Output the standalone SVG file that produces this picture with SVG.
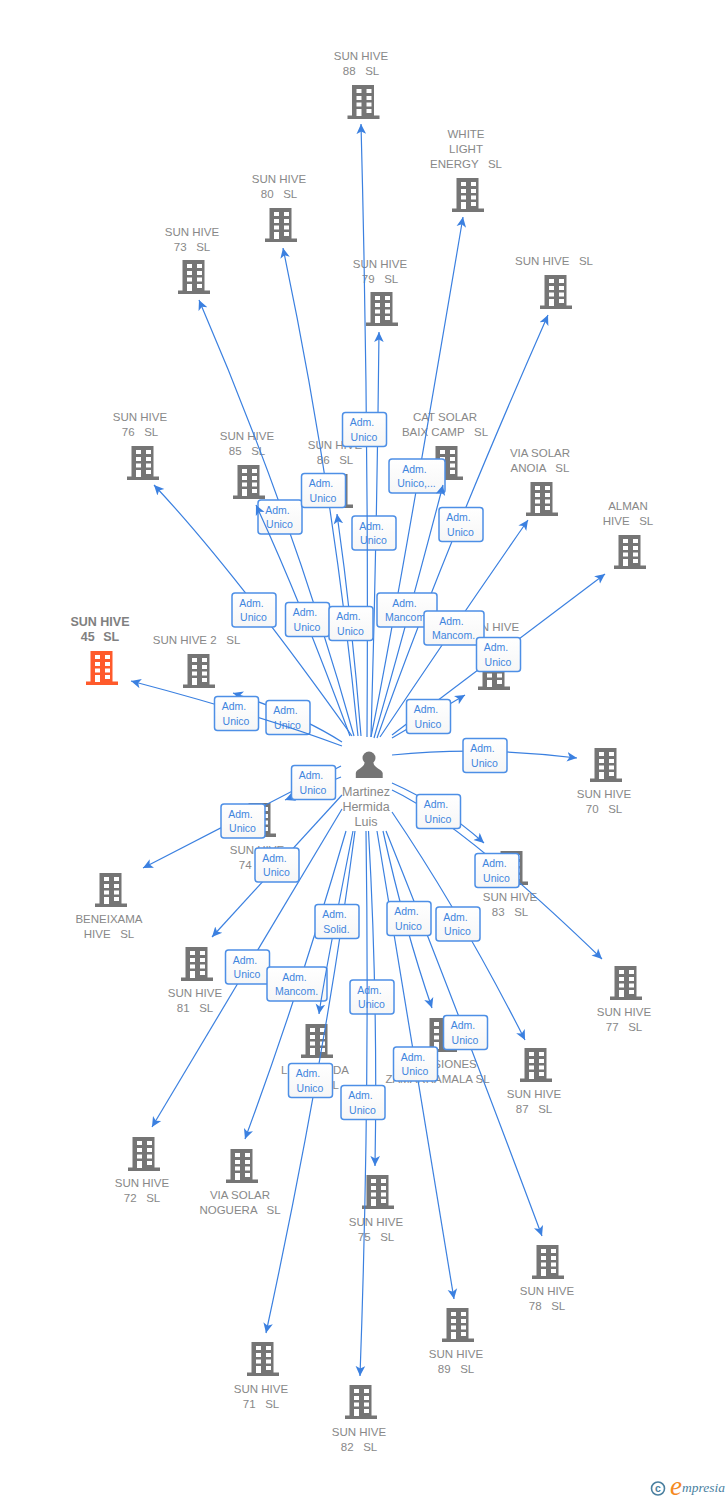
<svg xmlns="http://www.w3.org/2000/svg" width="728" height="1500" viewBox="0 0 728 1500">
<style>
text{font-family:"Liberation Sans",Arial,sans-serif;white-space:pre}
.n{font-size:11.5px;fill:#888;text-anchor:middle}
.h{font-size:12.5px;font-weight:bold;fill:#808080;text-anchor:middle}
.p{font-size:12.5px;fill:#888;text-anchor:middle}
.b{fill:url(#g);stroke:#4d8fe6;stroke-width:1.5}
.t{font-size:10.5px;fill:#3f85de;text-anchor:middle;transform:translateY(-0.8px)}
.c{fill:none;stroke:#3b80e0;stroke-width:1.2;marker-end:url(#a)}
.i{fill:#757575}
.o{fill:#ff5a2b}
</style>
<defs>
<linearGradient id="g" x1="0" y1="0" x2="0" y2="1"><stop offset="0" stop-color="#fff"/><stop offset="1" stop-color="#f6f6f6"/></linearGradient>
<marker id="a" markerUnits="userSpaceOnUse" markerWidth="11" markerHeight="11" viewBox="0 -5.5 11 11" refX="10" refY="0" orient="auto"><path d="M10,0L0,-4.8L2.6,0L0,4.8Z" fill="#3b80e0"/></marker>
<path id="k" fill-rule="evenodd" d="M4.5,0H26.5V30.5H32V34H0V30.5H4.5ZM9,4V8H14V4ZM19,4V8H24V4ZM9,11V15H14V11ZM19,11V15H24V11ZM9,17.5V21.5H14V17.5ZM19,17.5V21.5H24V17.5ZM9,24V31H14V24ZM19,24V28H24V24Z"/>
</defs>
<rect width="728" height="1500" fill="#fff"/>

<g id="n88"><use href="#k" class="i" x="347.500" y="85"/><text class="n" x="361" y="60">SUN HIVE</text><text class="n" x="361" y="75">88   SL</text></g>
<g id="nwhite"><use href="#k" class="i" x="452" y="178"/><text class="n" x="466" y="138">WHITE</text><text class="n" x="466" y="153">LIGHT</text><text class="n" x="466" y="168">ENERGY   SL</text></g>
<g id="n80"><use href="#k" class="i" x="265" y="208"/><text class="n" x="279" y="183">SUN HIVE</text><text class="n" x="279" y="198">80   SL</text></g>
<g id="n73"><use href="#k" class="i" x="178" y="260"/><text class="n" x="192" y="236">SUN HIVE</text><text class="n" x="192" y="251">73   SL</text></g>
<g id="n79"><use href="#k" class="i" x="366" y="292"/><text class="n" x="380" y="268">SUN HIVE</text><text class="n" x="380" y="283">79   SL</text></g>
<g id="nsun"><use href="#k" class="i" x="540" y="275"/><text class="n" x="554" y="265">SUN HIVE   SL</text></g>
<g id="n76"><use href="#k" class="i" x="127" y="446"/><text class="n" x="140" y="421">SUN HIVE</text><text class="n" x="140" y="436">76   SL</text></g>
<g id="n85"><use href="#k" class="i" x="233" y="465"/><text class="n" x="247" y="440">SUN HIVE</text><text class="n" x="247" y="455">85   SL</text></g>
<g id="n86"><use href="#k" class="i" x="321" y="474"/><text class="n" x="335" y="449">SUN HIVE</text><text class="n" x="335" y="464">86   SL</text></g>
<g id="ncat"><use href="#k" class="i" x="431" y="446"/><text class="n" x="445" y="421">CAT SOLAR</text><text class="n" x="445" y="436">BAIX CAMP   SL</text></g>
<g id="nanoia"><use href="#k" class="i" x="526" y="482"/><text class="n" x="540" y="457">VIA SOLAR</text><text class="n" x="540" y="472">ANOIA   SL</text></g>
<g id="nalman"><use href="#k" class="i" x="614" y="535"/><text class="n" x="628" y="510">ALMAN</text><text class="n" x="628" y="525">HIVE   SL</text></g>
<g id="n45"><use href="#k" class="o" x="86" y="651"/><text class="h" x="100" y="626">SUN HIVE</text><text class="h" x="100" y="641" style="word-spacing:.75px">45  SL</text></g>
<g id="n2"><use href="#k" class="i" x="183" y="654"/><text class="n" x="196.500" y="644">SUN HIVE 2   SL</text></g>
<g id="nhive"><use href="#k" class="i" x="478" y="656"/><text class="n" x="492" y="631">SUN HIVE</text></g>
<g id="n70"><use href="#k" class="i" x="590" y="748"/><text class="n" x="604" y="798">SUN HIVE</text><text class="n" x="604" y="813">70   SL</text></g>
<g id="n74"><use href="#k" class="i" x="244" y="803"/><text class="n" x="257" y="854">SUN HIVE</text><text class="n" x="257" y="869">74   SL</text></g>
<g id="n83"><use href="#k" class="i" x="496" y="851"/><text class="n" x="510" y="901">SUN HIVE</text><text class="n" x="510" y="916">83   SL</text></g>
<g id="nbene"><use href="#k" class="i" x="95" y="873"/><text class="n" x="109" y="923">BENEIXAMA</text><text class="n" x="109" y="938">HIVE   SL</text></g>
<g id="n81"><use href="#k" class="i" x="181" y="947"/><text class="n" x="195" y="997">SUN HIVE</text><text class="n" x="195" y="1012">81   SL</text></g>
<g id="n77"><use href="#k" class="i" x="610" y="966"/><text class="n" x="624" y="1016">SUN HIVE</text><text class="n" x="624" y="1031">77   SL</text></g>
<g id="nla"><use href="#k" class="i" x="301" y="1024"/><text class="n" x="281" y="1074" style="text-anchor:start">L</text><text class="n" x="349" y="1074" style="text-anchor:end">DA</text><text class="n" x="339" y="1089" style="text-anchor:end">L</text></g>
<g id="ninv"><use href="#k" class="i" x="425" y="1018"/><text class="n" x="437.500" y="1068">INVERSIONES</text><text class="n" x="437.500" y="1083">ZAMARRAMALA SL</text></g>
<g id="n87"><use href="#k" class="i" x="520" y="1048"/><text class="n" x="534" y="1098">SUN HIVE</text><text class="n" x="534" y="1113">87   SL</text></g>
<g id="n72"><use href="#k" class="i" x="128" y="1137"/><text class="n" x="142" y="1187">SUN HIVE</text><text class="n" x="142" y="1202">72   SL</text></g>
<g id="nnog"><use href="#k" class="i" x="226" y="1149"/><text class="n" x="240" y="1199">VIA SOLAR</text><text class="n" x="240" y="1214">NOGUERA   SL</text></g>
<g id="n75"><use href="#k" class="i" x="362" y="1175"/><text class="n" x="376" y="1226">SUN HIVE</text><text class="n" x="376" y="1241">75   SL</text></g>
<g id="n78"><use href="#k" class="i" x="532" y="1245"/><text class="n" x="547" y="1295">SUN HIVE</text><text class="n" x="547" y="1310">78   SL</text></g>
<g id="n89"><use href="#k" class="i" x="442" y="1308"/><text class="n" x="456" y="1358">SUN HIVE</text><text class="n" x="456" y="1373">89   SL</text></g>
<g id="n71"><use href="#k" class="i" x="247" y="1342"/><text class="n" x="261" y="1393">SUN HIVE</text><text class="n" x="261" y="1408">71   SL</text></g>
<g id="n82"><use href="#k" class="i" x="345" y="1385"/><text class="n" x="359" y="1436">SUN HIVE</text><text class="n" x="359" y="1451">82   SL</text></g>
<g id="person"><circle class="i" cx="369" cy="758" r="6.500"/><path class="i" d="M364.500,763C364,768 356,769 355.800,773L355.800,778H382.700L382.700,773C382,769 374,768 373.500,763Z"/><text class="p" x="366" y="796">Martinez</text><text class="p" x="366" y="811">Hermida</text><text class="p" x="366" y="826">Luis</text></g>

<g id="connectors">
<g><path class="c" d="M342,742Q300,715 233,693"/><rect class="b" x="266" y="700.500" width="44" height="34" rx="3"/><text class="t" x="285.500" y="715">Adm.</text><text class="t" x="287.500" y="729.500">Unico</text></g>
<g><path class="c" d="M342,746Q260,715 131,681"/><rect class="b" x="214.500" y="696.500" width="44" height="34" rx="3"/><text class="t" x="234" y="711">Adm.</text><text class="t" x="236" y="725.500">Unico</text></g>
<g><path class="c" d="M352,736Q233,569 154,485"/><rect class="b" x="232" y="593" width="44" height="34" rx="3"/><text class="t" x="251.500" y="607.500">Adm.</text><text class="t" x="253.500" y="622">Unico</text></g>
<g><path class="c" d="M371,737Q377,530 379,332"/><rect class="b" x="352" y="516" width="44" height="34" rx="3"/><text class="t" x="371.500" y="530.500">Adm.</text><text class="t" x="373.500" y="545">Unico</text></g>
<g><path class="c" d="M367,737Q369,430 361,124"/><rect class="b" x="342.500" y="412.500" width="44" height="34" rx="3"/><text class="t" x="362" y="427">Adm.</text><text class="t" x="364" y="441.500">Unico</text></g>
<g><path class="c" d="M354,736Q293,518 199,300"/><rect class="b" x="258" y="500" width="44" height="34" rx="3"/><text class="t" x="277.500" y="514.500">Adm.</text><text class="t" x="279.500" y="529">Unico</text></g>
<g><path class="c" d="M350,736Q300,600 256,505"/><rect class="b" x="285.500" y="602.500" width="44" height="34" rx="3"/><text class="t" x="305" y="617">Adm.</text><text class="t" x="307" y="631.500">Unico</text></g>
<g><path class="c" d="M358,736Q333.500,488 283,248"/><rect class="b" x="301.500" y="473.500" width="44" height="34" rx="3"/><text class="t" x="321" y="488">Adm.</text><text class="t" x="323" y="502.500">Unico</text></g>
<g><path class="c" d="M361,736Q352,620 337,514"/><rect class="b" x="329" y="606.500" width="44" height="34" rx="3"/><text class="t" x="348.500" y="621">Adm.</text><text class="t" x="350.500" y="635.500">Unico</text></g>
<g><path class="c" d="M371,737Q395,620 463,217"/><rect class="b" x="389" y="459" width="56" height="34" rx="3"/><text class="t" x="414.500" y="473.500">Adm.</text><text class="t" x="416.500" y="488">Unico,...</text></g>
<g><path class="c" d="M377,738Q440,560 548,315"/><rect class="b" x="439" y="507.500" width="44" height="34" rx="3"/><text class="t" x="458.500" y="522">Adm.</text><text class="t" x="460.500" y="536.500">Unico</text></g>
<g><path class="c" d="M374,738Q405,630 443,485"/><rect class="b" x="377" y="593" width="60" height="34" rx="3"/><text class="t" x="404.500" y="607.500">Adm.</text><text class="t" x="406.500" y="622">Mancom.</text></g>
<g><path class="c" d="M380,737Q455,625 528,520"/><rect class="b" x="424" y="611" width="60" height="34" rx="3"/><text class="t" x="451.500" y="625.500">Adm.</text><text class="t" x="453.500" y="640">Mancom.</text></g>
<g><path class="c" d="M392,735L605,574"/><rect class="b" x="476.500" y="637.500" width="44" height="34" rx="3"/><text class="t" x="496" y="652">Adm.</text><text class="t" x="498" y="666.500">Unico</text></g>
<g><path class="c" d="M392,738L465,695"/><rect class="b" x="406.500" y="699.500" width="44" height="34" rx="3"/><text class="t" x="426" y="714">Adm.</text><text class="t" x="428" y="728.500">Unico</text></g>
<g><path class="c" d="M392,755Q480,746 577,758"/><rect class="b" x="463" y="738.500" width="44" height="34" rx="3"/><text class="t" x="482.500" y="753">Adm.</text><text class="t" x="484.500" y="767.500">Unico</text></g>
<g><path class="c" d="M392,790Q460,822 602,959"/><rect class="b" x="475" y="853.500" width="44" height="34" rx="3"/><text class="t" x="494.500" y="868">Adm.</text><text class="t" x="496.500" y="882.500">Unico</text></g>
<g><path class="c" d="M392,783Q440,804 484,843"/><rect class="b" x="416.500" y="794.500" width="44" height="34" rx="3"/><text class="t" x="436" y="809">Adm.</text><text class="t" x="438" y="823.500">Unico</text></g>
<g><path class="c" d="M392,812Q461,914 525,1040"/><rect class="b" x="436" y="907" width="44" height="34" rx="3"/><text class="t" x="455.500" y="921.500">Adm.</text><text class="t" x="457.500" y="936">Unico</text></g>
<g><path class="c" d="M386,831Q450,990 542,1236"/><rect class="b" x="443.500" y="1015.500" width="44" height="34" rx="3"/><text class="t" x="463" y="1030">Adm.</text><text class="t" x="465" y="1044.500">Unico</text></g>
<g><path class="c" d="M377,831Q405,1000 454,1299"/><rect class="b" x="393.500" y="1047" width="44" height="34" rx="3"/><text class="t" x="413" y="1061.500">Adm.</text><text class="t" x="415" y="1076">Unico</text></g>
<g><path class="c" d="M383,831Q405,930 432,1008"/><rect class="b" x="387" y="901.500" width="44" height="34" rx="3"/><text class="t" x="406.500" y="916">Adm.</text><text class="t" x="408.500" y="930.500">Unico</text></g>
<g><path class="c" d="M368.500,831Q378,1000 375,1166"/><rect class="b" x="350" y="980" width="44" height="34" rx="3"/><text class="t" x="369.500" y="994.500">Adm.</text><text class="t" x="371.500" y="1009">Unico</text></g>
<g><path class="c" d="M366,831Q370,1100 360,1376"/><rect class="b" x="341" y="1085.500" width="44" height="34" rx="3"/><text class="t" x="360.500" y="1100">Adm.</text><text class="t" x="362.500" y="1114.500">Unico</text></g>
<g><path class="c" d="M342,809L152,1127"/><rect class="b" x="225.500" y="950" width="44" height="34" rx="3"/><text class="t" x="245" y="964.500">Adm.</text><text class="t" x="247" y="979">Unico</text></g>
<g><path class="c" d="M346,831Q300,990 245,1139"/><rect class="b" x="267" y="967" width="60" height="34" rx="3"/><text class="t" x="294.500" y="981.500">Adm.</text><text class="t" x="296.500" y="996">Mancom.</text></g>
<g><path class="c" d="M355,831Q325,1060 266,1333"/><rect class="b" x="288.500" y="1063.500" width="44" height="34" rx="3"/><text class="t" x="308" y="1078">Adm.</text><text class="t" x="310" y="1092.500">Unico</text></g>
<g><path class="c" d="M353,831Q324,978 319,1014"/><rect class="b" x="315" y="904.500" width="44" height="34" rx="3"/><text class="t" x="334.500" y="919">Adm.</text><text class="t" x="336.500" y="933.500">Solid.</text></g>
<g><path class="c" d="M342,795L212,937"/><rect class="b" x="255" y="848" width="44" height="34" rx="3"/><text class="t" x="274.500" y="862.500">Adm.</text><text class="t" x="276.500" y="877">Unico</text></g>
<g><path class="c" d="M341,766L143,868"/><rect class="b" x="221" y="804" width="44" height="34" rx="3"/><text class="t" x="240.500" y="818.500">Adm.</text><text class="t" x="242.500" y="833">Unico</text></g>
<g><path class="c" d="M341,777L285,800"/><rect class="b" x="291.500" y="765.500" width="44" height="34" rx="3"/><text class="t" x="311" y="780">Adm.</text><text class="t" x="313" y="794.500">Unico</text></g>
</g>

<g id="logo"><circle cx="658" cy="1488.500" r="6.500" fill="none" stroke="#4a7f9f" stroke-width="1.600"/><text x="658" y="1492" style="font-size:10.500px;font-weight:bold;fill:#4a7f9f;text-anchor:middle">c</text><text x="670" y="1495" style="font-size:27px;font-style:italic;fill:#f58a1f;font-family:'Liberation Serif',serif">e</text><text x="682" y="1492" style="font-size:13.500px;font-style:italic;fill:#4a7f9f;font-family:'Liberation Serif',serif">mpresia</text></g>
</svg>
